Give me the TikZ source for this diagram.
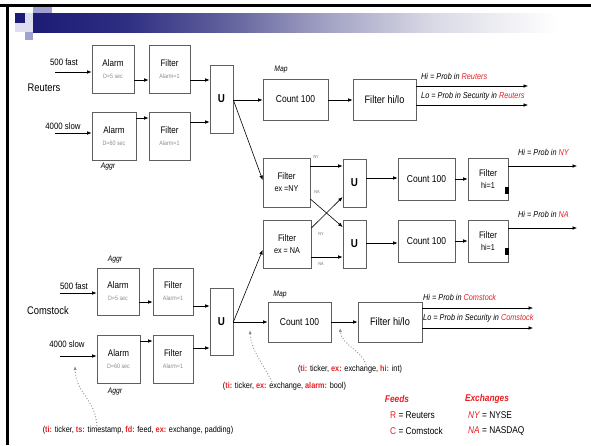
\documentclass[tikz,border=0pt]{standalone}
\usepackage{fontspec}
\setmainfont{Liberation Sans}[FakeStretch=0.85]
\usetikzlibrary{arrows.meta}
\definecolor{navy}{RGB}{28,28,118}
\definecolor{tbb}{RGB}{45,45,130}
\definecolor{tbc}{RGB}{95,95,155}
\definecolor{tbd}{RGB}{160,160,195}
\definecolor{tbe}{RGB}{218,218,230}
\definecolor{lavL}{RGB}{222,222,240}
\definecolor{lavM}{RGB}{160,160,210}
\definecolor{hot}{RGB}{235,30,35}
\definecolor{boxline}{RGB}{95,95,95}
\pgfdeclarehorizontalshading{titlebar}{100bp}{color(0bp)=(navy); color(25bp)=(navy); color(33bp)=(tbb); color(42bp)=(tbc); color(51bp)=(tbd); color(61bp)=(tbe); color(72bp)=(white); color(100bp)=(white)}
\newcommand{\hl}[1]{\textcolor{hot}{\bfseries #1}}
\newcommand{\subtx}{\fontsize{6.3}{7}\selectfont\color{black!45}}
\begin{document}
\begin{tikzpicture}[x=1pt,y=-1pt,
  bx/.style={draw=boxline, line width=0.7pt, inner sep=0pt, align=center, font=\fontsize{9.5}{11}\selectfont},
  ubox/.style={bx, minimum width=23pt, font=\fontsize{11.5}{12}\selectfont\bfseries},
  arr/.style={draw=black, line width=0.6pt, -{Latex[length=4.5pt,width=3.6pt]}},
  dots/.style={draw=black!45, line width=0.9pt, dotted, -{Latex[length=4pt,width=3.2pt,fill=black!70]}},
  feed/.style={font=\fontsize{9.2}{10}\selectfont},
  src/.style={font=\fontsize{11}{12}\selectfont},
  tag/.style={font=\fontsize{8}{9}\selectfont\itshape},
  outl/.style={font=\fontsize{8.6}{9}\selectfont\itshape, anchor=west, inner sep=0pt},
  tiny/.style={font=\fontsize{4.5}{5}\selectfont, text=black!55, inner sep=0pt},
  note/.style={font=\fontsize{8.6}{9}\selectfont, inner sep=0pt},
  leg/.style={font=\fontsize{9.8}{10}\selectfont, anchor=west, inner sep=0pt}
]
\useasboundingbox (0,0) rectangle (591,445);
\fill[white] (0,0) rectangle (591,445);
% slide frame and title bar
\shade[shading=titlebar] (33,13) rectangle (591,32);
\fill[navy] (15,13) rectangle (25,23);
\fill[lavL] (25,13) rectangle (33,23);
\fill[lavL] (15,23) rectangle (33,32);
\fill[lavM] (33,6) rectangle (52,13);
\fill[lavM] (25,32) rectangle (33,40);
\fill[black] (0,4) rectangle (591,6.5);
\fill[black] (6,4) rectangle (9,445);

% ---------- Reuters ----------
\node[src] (reu) at (44,88) {Reuters};
\node[feed] (rf) at (64,62) {500 fast};
\node[feed] (rs) at (63,126) {4000 slow};
\node[bx, minimum width=42pt, minimum height=48pt] (A1) at (113,69) {Alarm\\[1pt]{\subtx D=5 sec}};
\node[bx, minimum width=41pt, minimum height=48pt] (F1) at (169.5,69) {Filter\\[1pt]{\subtx Alarm=1}};
\node[bx, minimum width=44pt, minimum height=48pt] (A2) at (114,136) {Alarm\\[1pt]{\subtx D=60 sec}};
\node[bx, minimum width=41pt, minimum height=48pt] (F2) at (169.5,136) {Filter\\[1pt]{\subtx Alarm=1}};
\node[tag] (ag1) at (108,167) {Aggr};
\node[ubox, minimum height=68pt] (U1) at (221.5,99) {U};
\node[tag] (mp1) at (281,70) {Map};
\node[bx, minimum width=65pt, minimum height=41pt, font=\fontsize{10}{11}\selectfont] (M1) at (295.5,99.5) {Count 100};
\node[bx, minimum width=63pt, minimum height=41pt, font=\fontsize{10.8}{11}\selectfont] (H1) at (384.5,99.5) {Filter hi/lo};
\coordinate (i1) at (55,72);
\coordinate (i2) at (55,133);
\coordinate (o1) at (528,86);
\coordinate (o2) at (528,105);
\draw[arr] (i1) -- (A1.west |- i1);
\draw[arr] (i2) -- (A2.west |- i2);
\draw[arr] (A1.east |- 0,80) -- (F1.west |- 0,80);
\draw[arr] (A2.east |- 0,118) -- (F2.west |- 0,118);
\draw[arr] (F1.east |- 0,80) -- (U1.west |- 0,80);
\draw[arr] (F2.east |- 0,122) -- (U1.west |- 0,122);
\draw[arr] (U1.east |- 0,100) -- (M1.west |- 0,100);
\draw[arr] (M1.east |- 0,100) -- (H1.west |- 0,100);
\draw[arr] (H1.east |- o1) -- (o1);
\draw[arr] (H1.east |- o2) -- (o2);
\node[outl] (ho1) at (421,76) {Hi = Prob in \textcolor{hot}{Reuters}};
\node[outl] (lo1) at (421,96) {Lo = Prob in Security in \textcolor{hot}{Reuters}};

% ---------- exchanges ----------
\node[bx, minimum width=47pt, minimum height=49pt] (FNY) at (286.5,182.5) {Filter\\[1pt]{\fontsize{8.5}{9}\selectfont ex =NY}};
\node[bx, minimum width=48pt, minimum height=48pt] (FNA) at (287,244) {Filter\\[1pt]{\fontsize{8.5}{9}\selectfont ex = NA}};
\node[ubox, minimum height=48pt] (UNY) at (354.5,183) {U};
\node[ubox, minimum height=48pt] (UNA) at (354.5,244) {U};
\node[bx, minimum width=57pt, minimum height=42pt, font=\fontsize{10}{11}\selectfont] (CNY) at (426.5,179) {Count 100};
\node[bx, minimum width=57pt, minimum height=42pt, font=\fontsize{10}{11}\selectfont] (CNA) at (426.5,241) {Count 100};
\node[bx, minimum width=40pt, minimum height=42pt] (GNY) at (488,179) {Filter\\[1pt]{\fontsize{8.5}{9}\selectfont hi=1}};
\node[bx, minimum width=40pt, minimum height=42pt] (GNA) at (488,241) {Filter\\[1pt]{\fontsize{8.5}{9}\selectfont hi=1}};
\fill[black] (505,187) rectangle (509,194);
\fill[black] (505,248) rectangle (509,255);
\draw[arr] (U1.east |- 0,100) -- (FNY.west |- 0,180);
\draw[arr] (FNY.east |- 0,166) -- (UNY.west |- 0,166);
\draw[arr] (FNY.east |- 0,199) -- (UNA.west |- 0,227);
\draw[arr] (FNA.east |- 0,228) -- (UNY.west |- 0,197);
\draw[arr] (FNA.east |- 0,257) -- (UNA.west |- 0,257);
\node[tiny] (lny1) at (316,157) {NY};
\node[tiny] (lna1) at (317,192) {NA};
\node[tiny] (lny2) at (321,234) {NY};
\node[tiny] (lna2) at (321,264) {NA};
\draw[arr] (UNY.east |- 0,178) -- (CNY.west |- 0,178);
\draw[arr] (UNA.east |- 0,243) -- (CNA.west |- 0,243);
\draw[arr] (CNY.east |- 0,179) -- (GNY.west |- 0,179);
\draw[arr] (CNA.east |- 0,241) -- (GNA.west |- 0,241);
\coordinate (o3) at (577,166);
\coordinate (o4) at (577,228);
\draw[arr] (GNY.east |- o3) -- (o3);
\draw[arr] (GNA.east |- o4) -- (o4);
\node[outl] (hny) at (518,152) {Hi = Prob in \textcolor{hot}{NY}};
\node[outl] (hna) at (518,214) {Hi = Prob in \textcolor{hot}{NA}};

% ---------- Comstock ----------
\node[src] (com) at (48,311) {Comstock};
\node[feed] (cf) at (74,286) {500 fast};
\node[feed] (cs) at (67,344) {4000 slow};
\node[tag] (ag2) at (115,260) {Aggr};
\node[bx, minimum width=42pt, minimum height=47pt] (CA1) at (118,291.5) {Alarm\\[1pt]{\subtx D=5 sec}};
\node[bx, minimum width=40pt, minimum height=47pt] (CF1) at (173,291.5) {Filter\\[1pt]{\subtx Alarm=1}};
\node[bx, minimum width=43pt, minimum height=48pt] (CA2) at (118.5,359) {Alarm\\[1pt]{\subtx D=60 sec}};
\node[bx, minimum width=40pt, minimum height=48pt] (CF2) at (173,359) {Filter\\[1pt]{\subtx Alarm=1}};
\node[tag] (ag3) at (115,392) {Aggr};
\node[ubox, minimum height=67pt] (CU) at (221.5,321.5) {U};
\node[tag] (mp2) at (280,295) {Map};
\node[bx, minimum width=63pt, minimum height=40pt, font=\fontsize{10}{11}\selectfont] (CM) at (299.5,322) {Count 100};
\node[bx, minimum width=64pt, minimum height=40pt, font=\fontsize{10.8}{11}\selectfont] (CH) at (390,322) {Filter hi/lo};
\coordinate (i3) at (60,293);
\coordinate (i4) at (60,356);
\coordinate (o5) at (533,308);
\coordinate (o6) at (533,328);
\draw[arr] (i3) -- (CA1.west |- i3);
\draw[arr] (i4) -- (CA2.west |- i4);
\draw[arr] (CA1.east |- 0,302) -- (CF1.west |- 0,302);
\draw[arr] (CA2.east |- 0,341) -- (CF2.west |- 0,341);
\draw[arr] (CF1.east |- 0,306) -- (CU.west |- 0,306);
\draw[arr] (CF2.east |- 0,348) -- (CU.west |- 0,348);
\draw[arr] (CU.east |- 0,322) -- (CM.west |- 0,322);
\draw[arr] (CU.east |- 0,322) -- (FNA.west |- 0,250);
\draw[arr] (CM.east |- 0,322) -- (CH.west |- 0,322);
\draw[arr] (CH.east |- o5) -- (o5);
\draw[arr] (CH.east |- o6) -- (o6);
\node[outl] (hc) at (423,297) {Hi = Prob in \textcolor{hot}{Comstock}};
\node[outl] (lc) at (423,318) {Lo = Prob in Security in \textcolor{hot}{Comstock}};

% ---------- schema notes ----------
\node[note] (n1) at (138,430) {(\hl{ti:} ticker, \hl{ts:} timestamp, \hl{fd:} feed, \hl{ex:} exchange, padding)};
\node[note] (n2) at (284.5,386) {(\hl{ti:} ticker, \hl{ex:} exchange, \hl{alarm:} bool)};
\node[note] (n3) at (350,369) {(\hl{ti:} ticker, \hl{ex:} exchange, \hl{hi:} int)};
\coordinate (d1) at (75,366);
\coordinate (d2) at (250,330);
\coordinate (d3) at (340,328);
\draw[dots] (n1.north -| 97,0) .. controls (95,398) and (76,394) .. (d1);
\draw[dots] (n2.north -| 272,0) .. controls (262,362) and (251,350) .. (d2);
\draw[dots] (n3.north -| 366,0) .. controls (362,350) and (342,346) .. (d3);

% ---------- legend ----------
\node[font=\fontsize{9.8}{10}\selectfont\bfseries\itshape, text=hot] (lf) at (397,399) {Feeds};
\node[font=\fontsize{9.8}{10}\selectfont\bfseries\itshape, text=hot] (lx) at (487,399) {Exchanges};
\node[leg] (lr) at (390,415) {\textcolor{hot}{R} = Reuters};
\node[leg] (lc2) at (390,431) {\textcolor{hot}{C} = Comstock};
\node[leg] (lny) at (468,415) {\textcolor{hot}{\itshape NY} = NYSE};
\node[leg] (lna) at (468,431) {\textcolor{hot}{\itshape NA} = NASDAQ};
\end{tikzpicture}
\end{document}
